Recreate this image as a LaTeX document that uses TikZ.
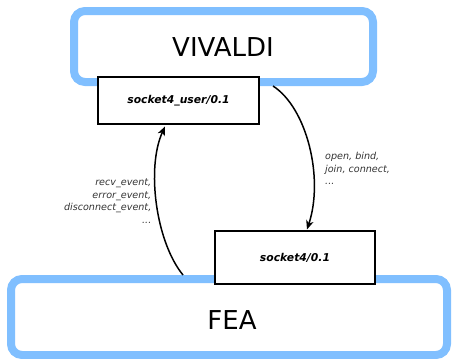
\documentclass[tikz,border=0pt]{standalone}
\usepackage{fontspec}
\setmainfont{DejaVu Sans}
\usetikzlibrary{arrows.meta}
\definecolor{compblue}{HTML}{80BFFF}
\definecolor{labelgray}{HTML}{333333}
\tikzset{
  component/.style={draw=compblue, line width=8pt, rounded corners=11pt, fill=white},
  module/.style={draw=black, line width=1.2pt, fill=white, font=\fontsize{10.8}{12}\selectfont\bfseries\itshape},
  call/.style={line width=1.5pt, -{Stealth[length=9pt,width=7.5pt,inset=2.5pt]}},
  calllabel/.style={text=labelgray, font=\fontsize{9.6}{12.6}\selectfont\itshape, inner sep=0pt}
}
\begin{document}
\begin{tikzpicture}[x=1pt,y=-1pt]
  \useasboundingbox (0,0) rectangle (453,359);
  % the two components
  \draw[component] (74,11) rectangle (373,82);
  \node[font=\fontsize{26}{30}\selectfont] (vivaldi) at (223,47) {VIVALDI};
  \draw[component] (11,279) rectangle (447,355);
  \node[font=\fontsize{26}{30}\selectfont] (fea) at (232,320) {FEA};
  % the interfaces
  \node[module, minimum width=161pt, minimum height=47pt] (user) at (178.5,100.5) {socket4\_user/0.1};
  \node[module, minimum width=160pt, minimum height=53pt] (sock) at (295,257.5) {socket4/0.1};
  % connector end points
  \coordinate (vout) at (273,86);
  \coordinate (fout) at (183,275);
  \coordinate (sockin) at (307,229.5);
  \coordinate (userin) at (165,126.5);
  \draw[call] (vout) .. controls (307,108) and (324,178) .. (sockin);
  \draw[call] (fout) .. controls (156,242) and (146,168) .. (userin);
  % labels
  \node[calllabel, align=left, anchor=north west] (downlbl) at (325,152) {open, bind,\\join, connect,\\...};
  \node[calllabel, align=right, anchor=north east] (uplbl) at (151.5,178.5) {recv\_event,\\error\_event,\\disconnect\_event,\\...};
\end{tikzpicture}
\end{document}
